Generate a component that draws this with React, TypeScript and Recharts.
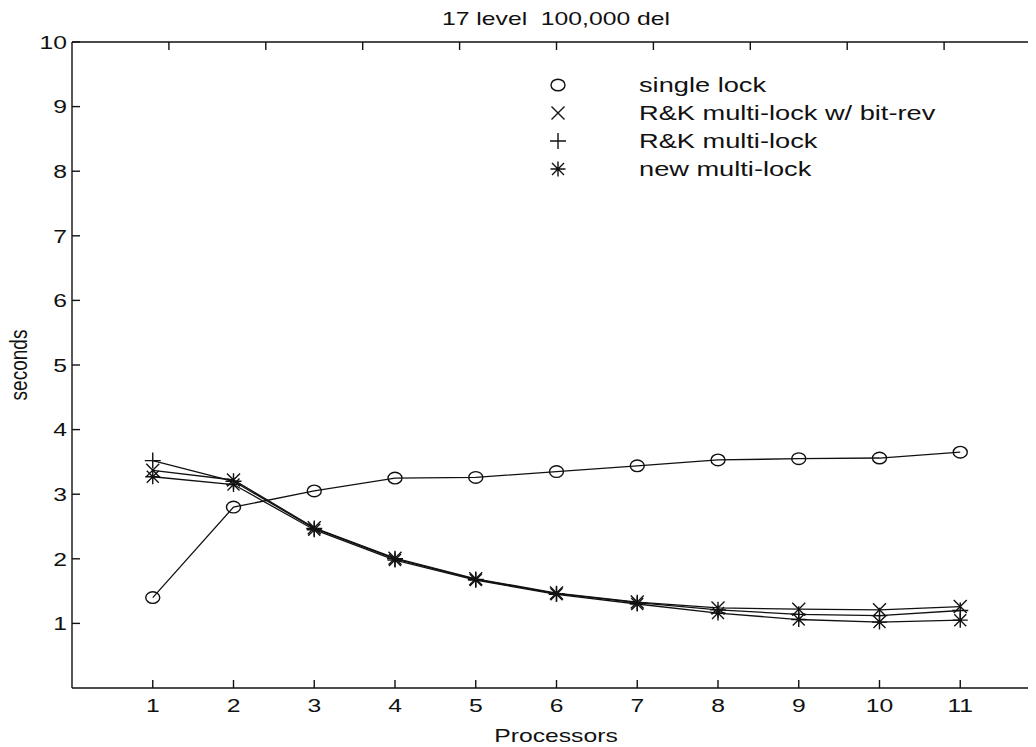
import React from "react";
import { LineChart, Line, XAxis, YAxis, Legend } from "recharts";

const processors = [1, 2, 3, 4, 5, 6, 7, 8, 9, 10, 11];
const singleLock = [1.4, 2.8, 3.05, 3.25, 3.26, 3.35, 3.44, 3.53, 3.55, 3.56, 3.65];
const rkBitRev = [3.37, 3.22, 2.48, 2.01, 1.69, 1.47, 1.33, 1.24, 1.22, 1.21, 1.26];
const rkMulti = [3.52, 3.2, 2.47, 2.0, 1.68, 1.46, 1.32, 1.21, 1.14, 1.12, 1.2];
const newMulti = [3.27, 3.15, 2.45, 1.98, 1.67, 1.45, 1.3, 1.16, 1.06, 1.02, 1.05];

const xTicks = [1, 2, 3, 4, 5, 6, 7, 8, 9, 10, 11];
const yTicks = [1, 2, 3, 4, 5, 6, 7, 8, 9, 10];

const seriesKeys = ["single", "bitrev", "rk", "newml"];
const seriesNames: Record<string, string> = {
  single: "single lock",
  bitrev: "R&K multi-lock w/ bit-rev",
  rk: "R&K multi-lock",
  newml: "new multi-lock",
};

const data = processors.map((p, i) => ({
  p,
  single: singleLock[i],
  bitrev: rkBitRev[i],
  rk: rkMulti[i],
  newml: newMulti[i],
}));

const FONT = "'Liberation Sans', Arial, Helvetica, sans-serif";
const FS = 19;
const STRETCH = 1.3;
const INK = "#111";

function Marker({ kind, cx, cy }: { kind: string; cx: number; cy: number }) {
  const s = 6.5;
  const common = { stroke: INK, strokeWidth: 1.4, fill: "none" };
  if (kind === "single") {
    return <ellipse cx={cx} cy={cy} rx={7} ry={5.8} {...common} />;
  }
  if (kind === "bitrev") {
    return (
      <path d={`M${cx - s},${cy - s}L${cx + s},${cy + s}M${cx - s},${cy + s}L${cx + s},${cy - s}`} {...common} />
    );
  }
  if (kind === "rk") {
    const t = 8;
    return <path d={`M${cx - t},${cy}L${cx + t},${cy}M${cx},${cy - t}L${cx},${cy + t}`} {...common} />;
  }
  const a = 6;
  const b = 7.5;
  return (
    <path
      d={`M${cx - a},${cy - a}L${cx + a},${cy + a}M${cx - a},${cy + a}L${cx + a},${cy - a}M${cx},${cy - b}L${cx},${cy + b}M${cx - b},${cy}L${cx + b},${cy}`}
      {...common}
    />
  );
}

const makeDot = (kind: string) => (props: any) => {
  const { cx, cy, index } = props;
  if (cx == null || cy == null) return <g key={index} />;
  return (
    <g key={`${kind}-${index}`}>
      <Marker kind={kind} cx={cx} cy={cy} />
    </g>
  );
};

const XTick = (props: any) => {
  const { x, y, payload } = props;
  return (
    <text
      transform={`translate(${x},${y}) scale(${STRETCH},1)`}
      textAnchor="middle"
      dy="0.72em"
      fontFamily={FONT}
      fontSize={FS}
      fill={INK}
    >
      {payload.value}
    </text>
  );
};

const YTick = (props: any) => {
  const { x, y, payload } = props;
  return (
    <text
      transform={`translate(${x},${y}) scale(${STRETCH},1)`}
      textAnchor="end"
      dy="0.36em"
      fontFamily={FONT}
      fontSize={FS}
      fill={INK}
    >
      {payload.value}
    </text>
  );
};

const LegendBox = () => (
  <div style={{ fontFamily: FONT, fontSize: 20, color: INK }}>
    {seriesKeys.map((k) => (
      <div key={k} style={{ display: "flex", alignItems: "center", height: 28 }}>
        <svg width={30} height={24} style={{ overflow: "visible" }}>
          <Marker kind={k} cx={14} cy={12} />
        </svg>
        <span
          style={{
            marginLeft: 65,
            display: "inline-block",
            transform: "scale(1.36,1)",
            transformOrigin: "left center",
            whiteSpace: "pre",
          }}
        >
          {seriesNames[k]}
        </span>
      </div>
    ))}
  </div>
);

const stretched = (extra = ""): React.CSSProperties => ({
  position: "absolute",
  transform: `translate(-50%,-50%) ${extra}`,
  fontFamily: FONT,
  fontSize: FS,
  color: INK,
  whiteSpace: "pre",
  lineHeight: 1,
});

const axisLine = { stroke: INK, strokeWidth: 1.4 };
const tickLine = { stroke: INK, strokeWidth: 1.4 };

export default function App() {
  return (
    <div style={{ position: "relative", width: 1028, height: 739, overflow: "hidden", background: "#fff" }}>
      <LineChart
        width={1060}
        height={730}
        data={data}
        margin={{ top: 33, left: 63, right: 26, bottom: 49 }}
      >
        <XAxis
          dataKey="p"
          type="number"
          domain={[0, 12]}
          ticks={xTicks}
          height={1}
          axisLine={axisLine}
          tickLine={tickLine}
          tickSize={-8}
          tickMargin={18}
          tick={<XTick />}
          interval={0}
        />
        <XAxis
          xAxisId="top"
          orientation="top"
          type="number"
          domain={[0, 12]}
          ticks={xTicks}
          height={1}
          axisLine={axisLine}
          tickLine={tickLine}
          tickSize={-8}
          tickFormatter={() => ""}
          interval={0}
        />
        <YAxis
          type="number"
          domain={[0, 10]}
          ticks={yTicks}
          width={1}
          axisLine={axisLine}
          tickLine={tickLine}
          tickSize={-8}
          tickMargin={13}
          tick={<YTick />}
          interval={0}
        />
        <YAxis
          yAxisId="right"
          orientation="right"
          type="number"
          domain={[0, 10]}
          ticks={yTicks}
          width={1}
          axisLine={false}
          tickLine={tickLine}
          tickSize={-8}
          tickFormatter={() => ""}
          interval={0}
        />
        <Legend
          layout="horizontal"
          verticalAlign="middle"
          align="center"
          content={<LegendBox />}
          wrapperStyle={{ left: 536, top: 63, width: 440 }}
        />
        {seriesKeys.map((k) => (
          <Line
            key={k}
            dataKey={k}
            name={seriesNames[k]}
            type="linear"
            stroke={INK}
            strokeWidth={1.3}
            dot={makeDot(k)}
            activeDot={false}
            isAnimationActive={false}
          />
        ))}
      </LineChart>
      <div style={{ ...stretched(`scale(${STRETCH},1)`), left: 548, top: 10 }}>17 level  100,000 del</div>
      <div style={{ ...stretched(`scale(${STRETCH},1)`), left: 548, top: 727 }}>Processors</div>
      <div
        style={{
          ...stretched(`rotate(180deg) scale(${STRETCH},1)`),
          writingMode: "vertical-rl",
          left: 11,
          top: 357,
        }}
      >
        seconds
      </div>
    </div>
  );
}
